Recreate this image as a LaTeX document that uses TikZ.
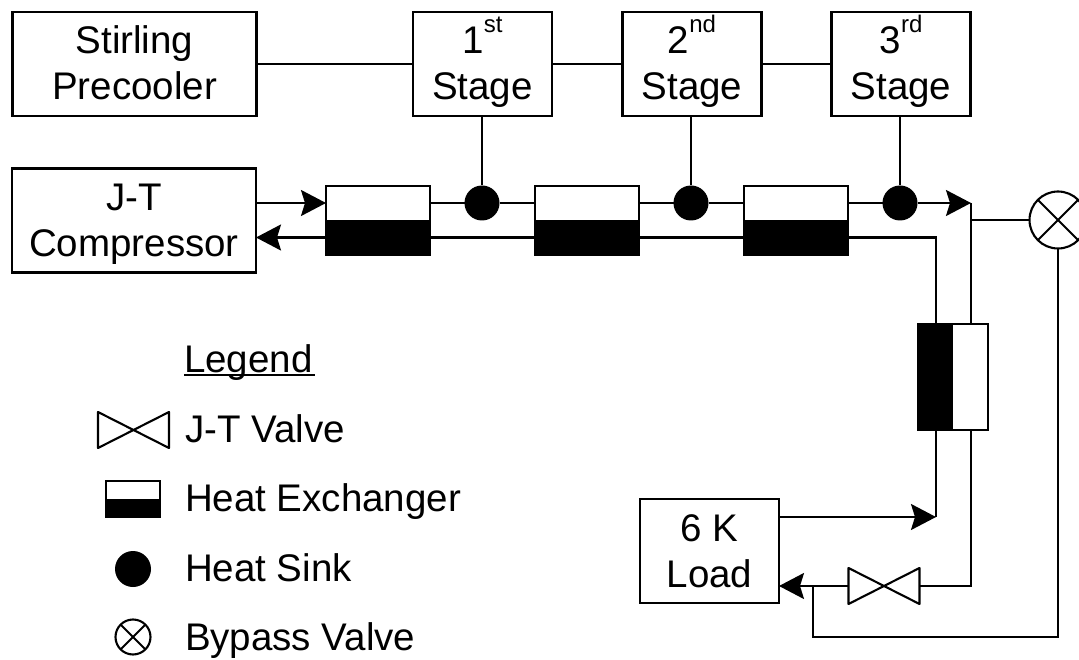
\documentclass[tikz,border=0pt]{standalone}
\usepackage{fontspec}
\setmainfont{Liberation Sans}
\usetikzlibrary{arrows.meta}
\newcommand{\twolines}[2]{\rule{0pt}{42pt}#1\\\rule[-16pt]{0pt}{16pt}#2}
\newcommand{\ordsup}[1]{\raisebox{21pt}{\fontsize{24}{24}\selectfont #1}}
\tikzset{
  x=1pt,y=-1pt,
  every node/.style={inner sep=0pt,outer sep=0pt},
  every path/.append style={line width=2.1pt},
  lbl/.style={font=\fontsize{38.5}{46}\selectfont,align=center},
  box/.style={draw,lbl,rectangle,minimum height=104pt},
  widebox/.style={box,minimum width=244pt},
  stagebox/.style={box,minimum width=139pt},
  hxh/.style={draw,rectangle,minimum width=#1,
    path picture={\fill (path picture bounding box.west) rectangle (path picture bounding box.south east);}},
  hxv/.style={draw,rectangle,minimum width=70pt,minimum height=106pt,
    path picture={\fill (path picture bounding box.north west) rectangle (path picture bounding box.south);}},
  sink/.style={circle,fill=black,minimum size=#1},
  sink/.default=35pt,
  bypass/.style={draw,circle,minimum size=#1,
    path picture={\draw (path picture bounding box.north west)--(path picture bounding box.south east)
      (path picture bounding box.north east)--(path picture bounding box.south west);}},
  valve/.style={rectangle,minimum width=71pt,minimum height=36pt},
  bowtie/.style={line join=round},
  legendtext/.style={font=\fontsize{38.5}{46}\selectfont,anchor=base west},
  flow/.style={-{Stealth[length=25pt,width=26pt,inset=4pt]}},
}
\begin{document}
\begin{tikzpicture}
\useasboundingbox (0,0) rectangle (1079,660);
\node[widebox] (stirling) at (134.5,64) {\twolines{Stirling}{Precooler}};
\node[stagebox] (s1) at (482.5,64) {\twolines{1\ordsup{st}}{Stage}};
\node[stagebox] (s2) at (692,64) {\twolines{2\ordsup{nd}}{Stage}};
\node[stagebox] (s3) at (901,64) {\twolines{3\ordsup{rd}}{Stage}};
\node[widebox] (comp) at (134,220.5) {\twolines{J-T}{Compressor}};
\node[hxh=104pt,minimum height=69pt] (h1) at (378,220.5) {};
\node[hxh=104pt,minimum height=69pt] (h2) at (587,220.5) {};
\node[hxh=104pt,minimum height=69pt] (h3) at (796,220.5) {};
\node[sink] (k1) at (482,203) {};
\node[sink] (k2) at (691,203) {};
\node[sink] (k3) at (900,203) {};
\node[hxv] (hv) at (953,377) {};
\node[bypass=57pt] (bv) at (1058,220) {};
\node[box,minimum width=139pt] (load) at (709.5,551) {\twolines{6 K}{Load}};
\node[valve] (jt) at (884,586) {};
\draw[bowtie] (jt.north west) -- (jt.south east) -- (jt.north east) -- (jt.south west) -- cycle;
\coordinate (jA) at (971,203);
\coordinate (jB) at (971,220);
\coordinate (jC) at (971,586);
\coordinate (jD) at (936,237.5);
\coordinate (jE) at (936,517);
\coordinate (jF) at (813,586);
\coordinate (jG) at (813,637);
\coordinate (jH) at (1058,637);
% cold stage line
\draw (stirling) -- (s1);
\draw (s1) -- (s2);
\draw (s2) -- (s3);
\draw (s1.south -| k1) -- (k1);
\draw (s2.south -| k2) -- (k2);
\draw (s3.south -| k3) -- (k3);
% high pressure line
\draw[flow] (comp.east |- k1) -- ([yshift=17.5pt]h1.west);
\draw ([yshift=17.5pt]h1.east) -- (k1);
\draw (k1) -- ([yshift=17.5pt]h2.west);
\draw ([yshift=17.5pt]h2.east) -- (k2);
\draw (k2) -- ([yshift=17.5pt]h3.west);
\draw ([yshift=17.5pt]h3.east) -- (k3);
\draw[flow] (k3) -- (jA);
\draw (jA) -- (jA |- hv.north);
\draw (jB) -- (bv);
% low pressure line
\draw[flow] ([yshift=-17pt]h1.west) -- (comp.east |- jD);
\draw ([yshift=-17pt]h2.west) -- ([yshift=-17pt]h1.east);
\draw ([yshift=-17pt]h3.west) -- ([yshift=-17pt]h2.east);
\draw ([yshift=-17pt]h3.east) -- (jD) -- (jD |- hv.north);
% around the vertical exchanger
\draw (jC |- hv.south) -- (jC) -- (jt.east);
\draw[flow] (load.east |- jE) -- (jE);
\draw (jE) -- (jE |- hv.south);
\draw[flow] (jt.west) -- (load.east |- jt);
\draw (jF) -- (jG) -- (jH) -- (bv.south);
% legend
\node[legendtext] (lgT) at (184,372) {\makebox[0pt][l]{\rule[-3.5pt]{131pt}{2pt}}Legend};
\node[valve] (lg1) at (133.5,430) {};
\draw[bowtie] (lg1.north west) -- (lg1.south east) -- (lg1.north east) -- (lg1.south west) -- cycle;
\node[legendtext] (lg1t) at (185,442) {J-T Valve};
\node[hxh=54pt,minimum height=36pt] (lg2) at (133,499) {};
\node[legendtext] (lg2t) at (185,511) {Heat Exchanger};
\node[sink=36pt] (lg3) at (133,569) {};
\node[legendtext] (lg3t) at (185,581) {Heat Sink};
\node[bypass=35pt] (lg4) at (133,637) {};
\node[legendtext] (lg4t) at (185,650) {Bypass Valve};
\end{tikzpicture}
\end{document}
